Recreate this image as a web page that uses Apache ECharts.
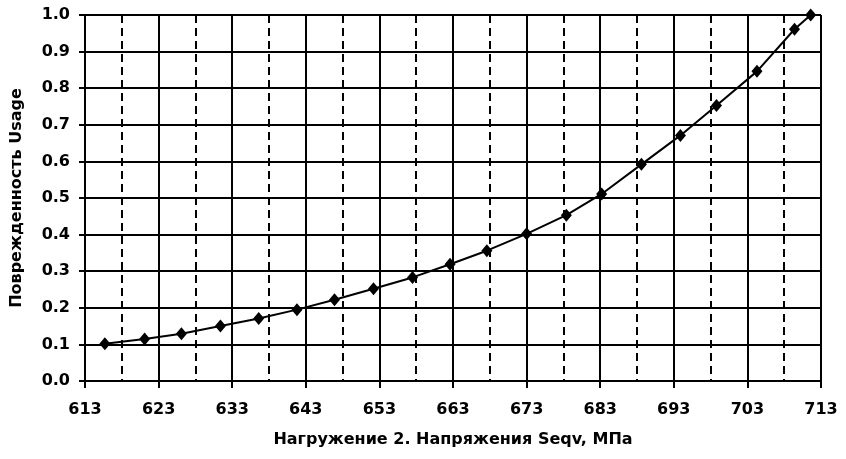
<!DOCTYPE html>
<html>
<head>
<meta charset="utf-8">
<script src="https://cdn.jsdelivr.net/npm/echarts@6/dist/echarts.min.js"></script>
<style>
  html, body { margin: 0; padding: 0; background: #fff; }
  #chart { width: 846px; height: 459px; }
</style>
</head>
<body>
<div id="chart"></div>
<script>
// Напряжения Seqv, МПа
const stress = [615.7, 621.1, 626.1, 631.4, 636.6, 641.8, 646.9, 652.2, 657.5, 662.6,
                667.6, 673.0, 678.4, 683.2, 688.6, 693.9, 698.8, 704.3, 709.4, 711.6];
// Поврежденность Usage
const usage = [0.102, 0.115, 0.129, 0.150, 0.171, 0.195, 0.222, 0.252, 0.283, 0.319,
               0.356, 0.402, 0.453, 0.511, 0.592, 0.671, 0.753, 0.846, 0.961, 1.0];

const xName = 'Нагружение 2. Напряжения Seqv, МПа';
const yName = 'Поврежденность Usage';

const font = 'DejaVu Sans';

const chart = echarts.init(document.getElementById('chart'));
chart.setOption({
  animation: false,
  backgroundColor: '#fff',
  grid: { left: 85, right: 25, top: 15, bottom: 78 },
  xAxis: {
    type: 'value',
    min: 613,
    max: 713,
    interval: 10,
    name: xName,
    nameLocation: 'middle',
    nameGap: 51,
    nameTextStyle: { color: '#000', fontFamily: font, fontWeight: 'bold', fontSize: 16 },
    axisLine: { lineStyle: { color: '#000', width: 2 } },
    axisTick: { show: true, length: 7, lineStyle: { color: '#000', width: 2 } },
    axisLabel: { color: '#000', fontFamily: font, fontWeight: 'bold', fontSize: 16, margin: 21 },
    splitLine: { show: true, lineStyle: { color: '#000', width: 2 } },
    minorTick: { show: false, splitNumber: 2 },
    minorSplitLine: { show: true, lineStyle: { color: '#000', width: 2, type: [8, 5] } }
  },
  yAxis: {
    type: 'value',
    min: 0,
    max: 1,
    interval: 0.1,
    name: yName,
    nameLocation: 'middle',
    nameGap: 60,
    nameTextStyle: { color: '#000', fontFamily: font, fontWeight: 'bold', fontSize: 16 },
    axisLine: { show: true, lineStyle: { color: '#000', width: 2 } },
    axisTick: { show: true, length: 6, lineStyle: { color: '#000', width: 2 } },
    axisLabel: {
      color: '#000', fontFamily: font, fontWeight: 'bold', fontSize: 16, margin: 15,
      formatter: v => v.toFixed(1)
    },
    splitLine: { show: true, lineStyle: { color: '#000', width: 2 } }
  },
  series: [
    {
      type: 'line',
      data: stress.map((x, i) => [x, usage[i]]),
      symbol: 'diamond',
      symbolSize: [11, 13],
      itemStyle: { color: '#000' },
      lineStyle: { color: '#000', width: 2 }
    }
  ]
});
</script>
</body>
</html>
